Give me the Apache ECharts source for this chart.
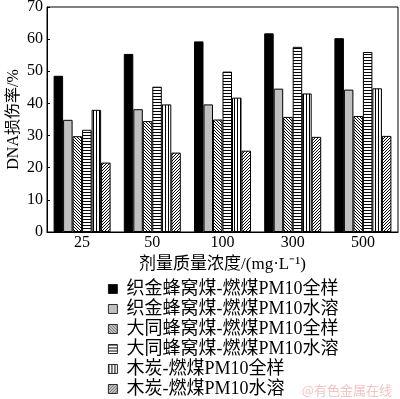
<!DOCTYPE html>
<html>
<head>
<meta charset="utf-8">
<script src="https://cdn.jsdelivr.net/npm/echarts@6/dist/echarts.min.js"></script>
<style>
html,body{margin:0;padding:0;background:#fff;}
#main{width:400px;height:399px;}
</style>
</head>
<body>
<div id="main"></div>
<script>
var categories = ['25', '50', '100', '300', '500'];
var seriesNames = ['织金蜂窝煤-燃煤PM10全样', '织金蜂窝煤-燃煤PM10水溶', '大同蜂窝煤-燃煤PM10全样', '大同蜂窝煤-燃煤PM10水溶', '木炭-燃煤PM10全样', '木炭-燃煤PM10水溶'];
var zjAll = [48.6, 55.4, 59.3, 61.8, 60.3];
var zjWater = [34.9, 38.2, 39.7, 44.6, 44.3];
var dtAll = [29.8, 34.5, 35.0, 35.8, 36.1];
var dtWater = [31.8, 45.2, 49.9, 57.6, 56.0];
var mtAll = [38.0, 39.7, 41.8, 43.1, 44.7];
var mtWater = [21.6, 24.7, 25.3, 29.6, 29.9];

var fontFamily = '"Liberation Serif", "Noto Sans CJK SC", serif';

// 用canvas画填充图案
function makePattern(type) {
	var c = document.createElement('canvas');
	var s = 6;
	c.width = s; c.height = s;
	var ctx = c.getContext('2d');
	ctx.fillStyle = '#fff';
	ctx.fillRect(0, 0, s, s);
	ctx.strokeStyle = '#000';
	ctx.lineWidth = 1;
	ctx.beginPath();
	if (type == 'h') {
		ctx.moveTo(0, 0.5); ctx.lineTo(s, 0.5);
		ctx.moveTo(0, 3.5); ctx.lineTo(s, 3.5);
	} else if (type == 'v') {
		ctx.moveTo(0.5, 0); ctx.lineTo(0.5, s);
		ctx.moveTo(3.5, 0); ctx.lineTo(3.5, s);
	} else if (type == 'bs') {
		for (var k = -s; k <= s; k += 3) {
			ctx.moveTo(k, 0); ctx.lineTo(k + s, s);
		}
	} else if (type == 'fs') {
		for (var k = 0; k <= 2 * s; k += 3) {
			ctx.moveTo(k, 0); ctx.lineTo(k - s, s);
		}
	}
	ctx.stroke();
	return { image: c, repeat: 'repeat' };
}

var fills = ['#000', '#c0c0c0', makePattern('bs'), makePattern('h'), makePattern('v'), makePattern('fs')];
var dataList = [zjAll, zjWater, dtAll, dtWater, mtAll, mtWater];

var series = [];
for (var i = 0; i < 6; i++) {
	series.push({
		name: seriesNames[i],
		type: 'bar',
		data: dataList[i],
		barWidth: 9.5,
		barGap: '0%',
		itemStyle: {
			color: fills[i],
			borderColor: '#000',
			borderWidth: 1
		}
	});
}

var myChart = echarts.init(document.getElementById('main'));
var option = {
	animation: false,
	backgroundColor: '#fff',
	grid: {
		left: 47,
		right: 2,
		top: 7,
		bottom: 167,
		outerBoundsMode: 'none',
		show: true,
		borderColor: '#000',
		borderWidth: 1
	},
	legend: {
		orient: 'vertical',
		left: 108,
		top: 280,
		height: 130,
		padding: 0,
		itemWidth: 9,
		itemHeight: 9,
		itemGap: 2,
		icon: 'path://M0 0h10v10h-10z',
		itemStyle: { borderWidth: 0.8, borderColor: '#000' },
		textStyle: { fontFamily: fontFamily, fontSize: 18, color: '#000', padding: [0, 0, 0, 4] },
		data: seriesNames
	},
	xAxis: {
		type: 'category',
		data: categories,
		name: '剂量质量浓度/(mg·L⁻¹)',
		nameLocation: 'middle',
		nameGap: 24,
		nameMoveOverlap: false,
		nameTextStyle: { fontFamily: fontFamily, fontSize: 17, color: '#000' },
		axisLine: { lineStyle: { color: '#000' } },
		axisTick: { show: false },
		axisLabel: { fontFamily: fontFamily, fontSize: 16, color: '#000', margin: 3 }
	},
	yAxis: {
		type: 'value',
		min: 0,
		max: 70,
		interval: 10,
		name: 'DNA损伤率/%',
		nameLocation: 'middle',
		nameGap: 25,
		nameMoveOverlap: false,
		nameTextStyle: { fontFamily: fontFamily, fontSize: 16, color: '#000' },
		axisLine: { show: true, lineStyle: { color: '#000' } },
		axisTick: { show: true, inside: true, length: 3, lineStyle: { color: '#000' } },
		axisLabel: { fontFamily: fontFamily, fontSize: 16, color: '#000', margin: 4 },
		splitLine: { show: false }
	},
	graphic: [{
		type: 'text',
		right: 8,
		bottom: 2,
		style: { text: '@有色金属在线', fill: '#f2c4c4', font: '13px "Noto Sans CJK SC"' }
	}],
	series: series
};
myChart.setOption(option);
</script>
</body>
</html>
